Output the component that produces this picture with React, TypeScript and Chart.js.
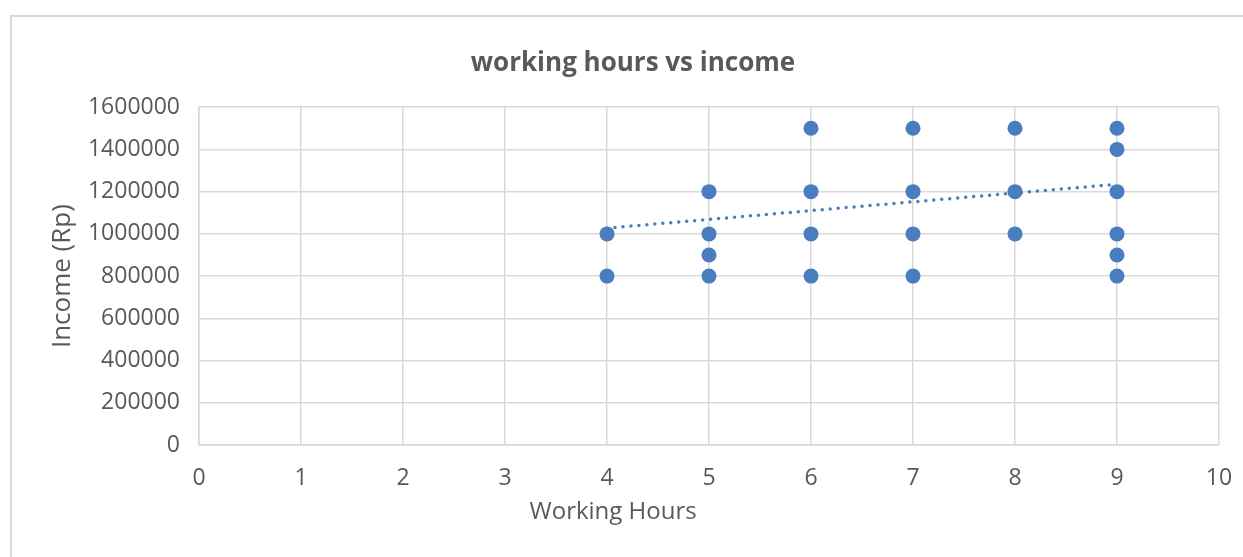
import React, { useEffect, useRef } from "react";
import { Chart, registerables } from "chart.js";

Chart.register(...registerables);

const hours = [4, 4, 5, 5, 5, 5, 6, 6, 6, 6, 7, 7, 7, 7, 8, 8, 8, 9, 9, 9, 9, 9, 9];
const income = [
  1000000, 800000,
  1200000, 1000000, 900000, 800000,
  1500000, 1200000, 1000000, 800000,
  1500000, 1200000, 1000000, 800000,
  1500000, 1200000, 1000000,
  1500000, 1400000, 1200000, 1000000, 900000, 800000,
];
const trendX = [4, 9];
const trendY = [1027000, 1235000];

const xTicks = [0, 1, 2, 3, 4, 5, 6, 7, 8, 9, 10];
const yTicks = [0, 200000, 400000, 600000, 800000, 1000000, 1200000, 1400000, 1600000];

const X_TITLE = "Working Hours";

const BLUE = "#4a7dc0";
const GRID = "#d9d9d9";
const TEXT = "#595959";
const FONT = "'Open Sans', 'Noto Sans', sans-serif";

const xTitlePlugin = {
  id: "xTitle",
  afterDraw(chart: any) {
    const { ctx, chartArea } = chart;
    ctx.save();
    ctx.font = `24px ${FONT}`;
    ctx.fillStyle = TEXT;
    ctx.textAlign = "center";
    ctx.textBaseline = "middle";
    const x = chartArea.left + 0.406 * (chartArea.right - chartArea.left);
    ctx.fillText(X_TITLE, x, chartArea.bottom + 67);
    ctx.restore();
  },
};

export default function App() {
  const ref = useRef<HTMLCanvasElement | null>(null);
  useEffect(() => {
    if (!ref.current) return;
    const chart = new Chart(ref.current, {
      type: "scatter",
      data: {
        datasets: [
          {
            label: "Income",
            data: hours.map((h, i) => ({ x: h, y: income[i] })),
            backgroundColor: BLUE,
            borderColor: BLUE,
            pointRadius: 7.5,
            pointBorderWidth: 0,
          },
          {
            label: "Trend",
            type: "line",
            data: trendX.map((h, i) => ({ x: h, y: trendY[i] })),
            borderColor: BLUE,
            borderWidth: 3.5,
            borderDash: [0, 8],
            borderCapStyle: "round",
            pointRadius: 0,
            fill: false,
          } as any,
        ],
      },
      plugins: [xTitlePlugin],
      options: {
        responsive: false,
        animation: false,
        devicePixelRatio: 1,
        layout: { padding: { left: 47, right: 24, top: 0, bottom: 0 } },
        plugins: {
          legend: { display: false },
          tooltip: { enabled: false },
          title: {
            display: true,
            text: "working hours vs income",
            color: TEXT,
            font: { family: FONT, size: 26, weight: "bold", lineHeight: 1.2 },
            padding: { top: 48, bottom: 28 },
          },
        },
        scales: {
          x: {
            type: "linear",
            min: 0,
            max: 10,
            afterBuildTicks: (s: any) => {
              s.ticks = xTicks.map((v) => ({ value: v }));
            },
            afterFit: (s: any) => {
              s.height = 112;
              s.paddingRight = 0;
              s.paddingLeft = 0;
            },
            grid: { color: GRID, lineWidth: 1.5, drawTicks: false },
            border: { color: GRID, width: 1.5 },
            ticks: {
              color: TEXT,
              padding: 20,
              font: { family: FONT, size: 23 },
            },
            title: { display: false },
          },
          y: {
            type: "linear",
            min: 0,
            max: 1600000,
            afterBuildTicks: (s: any) => {
              s.ticks = yTicks.map((v) => ({ value: v }));
            },
            afterFit: (s: any) => {
              s.width = 152;
            },
            grid: { color: GRID, lineWidth: 1.5, drawTicks: false },
            border: { color: GRID, width: 1.5 },
            ticks: {
              color: TEXT,
              padding: 19,
              font: { family: FONT, size: 23 },
              callback: (v: any) => String(v),
            },
            title: {
              display: true,
              text: "Income (Rp)",
              color: TEXT,
              font: { family: FONT, size: 26, lineHeight: 1.2 },
              padding: { top: 0, bottom: 0 },
            },
          },
        },
      },
    });
    return () => chart.destroy();
  }, []);

  return (
    <div
      style={{
        position: "fixed",
        left: 0,
        top: 0,
        width: 1243,
        height: 557,
        overflow: "hidden",
        background: "#fff",
      }}
    >
      <div
        style={{
          position: "absolute",
          left: 10,
          top: 15,
          width: 1300,
          height: 600,
          border: "2px solid " + GRID,
        }}
      />
      <canvas
        ref={ref}
        width={1243}
        height={557}
        style={{ position: "absolute", left: 0, top: 0, width: 1243, height: 557 }}
      />
    </div>
  );
}
